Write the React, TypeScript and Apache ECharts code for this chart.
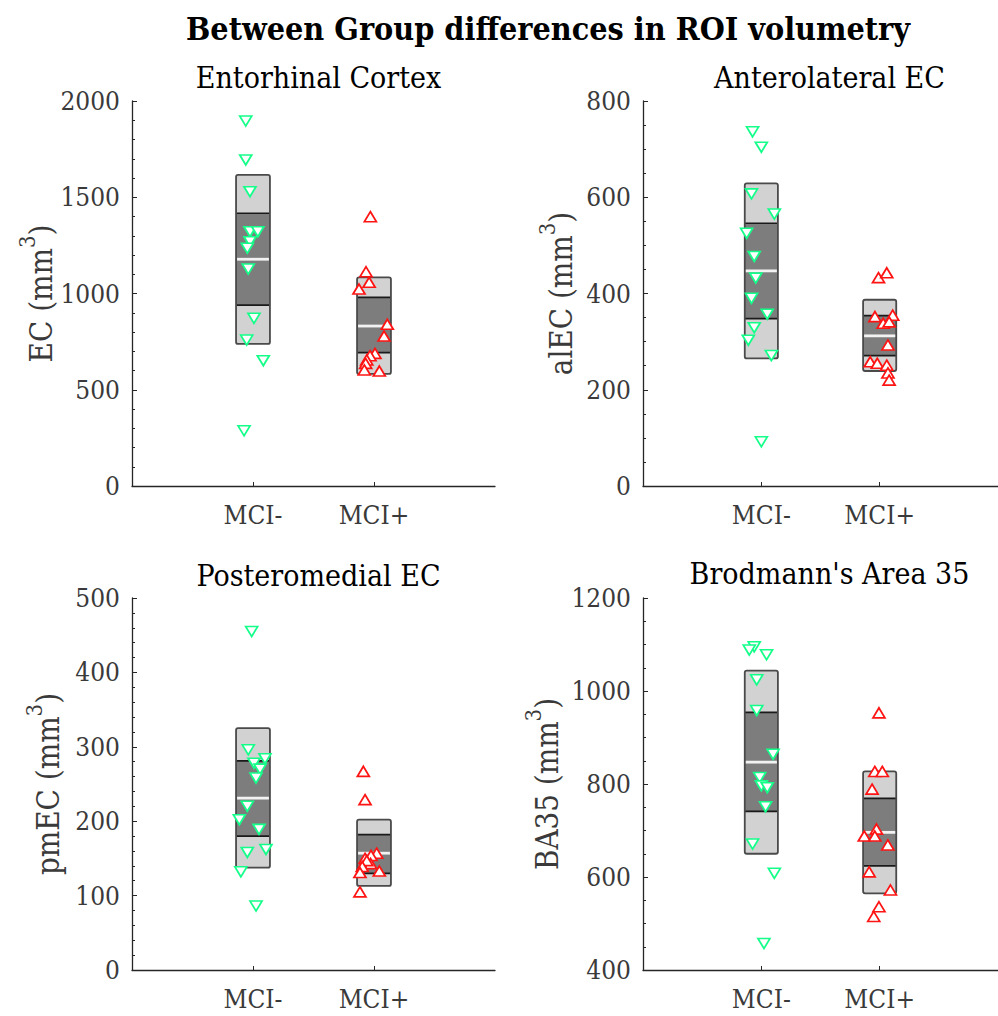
import React, { useEffect, useRef } from "react";
import * as echarts from "echarts";

const FONT = "'DejaVu Serif Condensed', 'DejaVu Serif', serif";

const groups = ["MCI-", "MCI+"];

// Entorhinal Cortex
const ecMinusX = [0.94, 0.94, 0.975, 0.975, 1.04, 0.975, 0.953, 0.961, 1.008, 0.948, 1.085, 0.926];
const ecMinusY = [1896, 1694, 1529, 1321, 1321, 1269, 1235, 1127, 871, 758, 651, 287];
const ecPlusX = [1.97, 1.934, 1.96, 1.876, 2.11, 2.083, 2.008, 1.967, 1.94, 1.931, 1.92, 2.044];
const ecPlusY = [1399, 1113, 1058, 1023, 840, 779, 689, 677, 655, 637, 603, 597];
// [group, outer low, outer high, inner low, inner high, mean]
const ecBoxes = [
  [1, 738, 1616, 940, 1417, 1178],
  [2, 582, 1084, 693, 980, 831],
];

// Anterolateral EC
const alMinusX = [0.926, 1.0, 0.917, 1.11, 0.876, 0.94, 0.953, 0.917, 1.05, 0.94, 0.89, 1.085, 1.0];
const alMinusY = [736, 704, 607, 565, 525, 477, 432, 390, 357, 329, 303, 271, 92];
const alPlusX = [1.99, 2.06, 1.96, 2.11, 2.03, 2.08, 2.07, 1.92, 1.98, 2.06, 2.07, 2.08];
const alPlusY = [433, 443, 352, 355, 338, 341, 293, 258, 255, 251, 235, 220];
const alBoxes = [
  [1, 265, 629, 348, 546, 447],
  [2, 239, 387, 271, 354, 312],
];

// Posteromedial EC
const pmMinusX = [0.989, 0.961, 1.099, 1.008, 1.058, 1.025, 0.953, 0.887, 1.05, 1.107, 0.953, 0.9, 1.025];
const pmMinusY = [455, 296, 284, 278, 270, 258, 220, 202, 189, 162, 158, 132, 86];
const pmPlusX = [1.912, 1.926, 2.022, 1.975, 1.926, 1.972, 1.94, 1.903, 2.044, 1.884, 1.884];
const pmPlusY = [267, 229, 157, 154, 150, 143, 147, 139, 133, 131, 105];
const pmBoxes = [
  [1, 137.5, 325, 180, 281, 231],
  [2, 113, 202, 130, 182, 157],
];

// Brodmann's Area 35
const baMinusX = [0.94, 0.898, 1.044, 0.961, 0.961, 1.099, 0.986, 1.0, 1.05, 1.036, 0.926, 1.11, 1.022];
const baMinusY = [1095, 1088, 1078, 1024, 958, 864, 814, 796, 792, 751, 671, 608, 457];
const baPlusX = [1.994, 1.959, 2.022, 1.936, 1.973, 1.87, 1.959, 2.069, 1.911, 2.091, 1.994, 1.95];
const baPlusY = [953, 827, 827, 789, 703, 688, 688, 669, 611, 572, 536, 515];
const baBoxes = [
  [1, 650, 1044, 741, 954, 847],
  [2, 565, 827, 624, 769, 696],
];

const panels = [
  {
    title: "Entorhinal Cortex", yName: "EC", min: 0, max: 2000, interval: 500, minor: 5,
    minusX: ecMinusX, minusY: ecMinusY, plusX: ecPlusX, plusY: ecPlusY, boxes: ecBoxes,
    grid: { left: 132, top: 101, width: 363, height: 385 }, nameGap: 72, titleTop: 57,
  },
  {
    title: "Anterolateral EC", yName: "alEC", min: 0, max: 800, interval: 200, minor: 4,
    minusX: alMinusX, minusY: alMinusY, plusX: alPlusX, plusY: alPlusY, boxes: alBoxes,
    grid: { left: 643, top: 101, width: 363, height: 385 }, nameGap: 67, titleTop: 57,
  },
  {
    title: "Posteromedial EC", yName: "pmEC", min: 0, max: 500, interval: 100, minor: 5,
    minusX: pmMinusX, minusY: pmMinusY, plusX: pmPlusX, plusY: pmPlusY, boxes: pmBoxes,
    grid: { left: 132, top: 598, width: 363, height: 372 }, nameGap: 69, titleTop: 555,
  },
  {
    title: "Brodmann's Area 35", yName: "BA35", min: 400, max: 1200, interval: 200, minor: 4,
    minusX: baMinusX, minusY: baMinusY, plusX: baPlusX, plusY: baPlusY, boxes: baBoxes,
    grid: { left: 643, top: 598, width: 363, height: 372 }, nameGap: 81, titleTop: 553,
  },
];

const HALF_W = 0.14;
const AXIS_COLOR = "#262626";
const LABEL_COLOR = "#3a3a3a";

function renderBox(params: any, api: any) {
  const g = api.value(0);
  const outerLo = api.value(1);
  const outerHi = api.value(2);
  const innerLo = api.value(3);
  const innerHi = api.value(4);
  const mean = api.value(5);
  const oTL = api.coord([g - HALF_W, outerHi]);
  const oBR = api.coord([g + HALF_W, outerLo]);
  const iTL = api.coord([g - HALF_W, innerHi]);
  const iBR = api.coord([g + HALF_W, innerLo]);
  const mL = api.coord([g - HALF_W, mean]);
  const mR = api.coord([g + HALF_W, mean]);
  return {
    type: "group",
    children: [
      {
        type: "rect",
        shape: { x: oTL[0], y: oTL[1], width: oBR[0] - oTL[0], height: oBR[1] - oTL[1], r: 2 },
        style: { fill: "#d2d2d2", stroke: "none" },
      },
      {
        type: "rect",
        shape: { x: iTL[0], y: iTL[1], width: iBR[0] - iTL[0], height: iBR[1] - iTL[1] },
        style: { fill: "#7d7d7d", stroke: "none" },
      },
      {
        type: "line",
        shape: { x1: iTL[0], y1: iTL[1], x2: iBR[0], y2: iTL[1] },
        style: { stroke: "#1a1a1a", lineWidth: 1.7 },
      },
      {
        type: "line",
        shape: { x1: iTL[0], y1: iBR[1], x2: iBR[0], y2: iBR[1] },
        style: { stroke: "#1a1a1a", lineWidth: 1.7 },
      },
      {
        type: "rect",
        shape: { x: oTL[0], y: oTL[1], width: oBR[0] - oTL[0], height: oBR[1] - oTL[1], r: 2 },
        style: { fill: "none", stroke: "#4a4a4a", lineWidth: 1.8 },
      },
      {
        type: "line",
        shape: { x1: mL[0] + 1, y1: mL[1], x2: mR[0] - 1, y2: mR[1] },
        style: { stroke: "#f2f2f2", lineWidth: 2.8 },
      },
    ],
  };
}

function buildOption() {
  const grids: any[] = [];
  const xAxes: any[] = [];
  const yAxes: any[] = [];
  const series: any[] = [];
  const titles: any[] = [
    {
      text: "Between Group differences in ROI volumetry",
      left: 543,
      top: 8,
      textAlign: "center",
      textStyle: { fontFamily: FONT, fontSize: 32, fontWeight: "bold", color: "#000" },
    },
  ];

  panels.forEach((p, i) => {
    grids.push({ ...p.grid, containLabel: false });
    titles.push({
      text: p.title,
      left: p.grid.left + p.grid.width / 2,
      top: p.titleTop,
      textAlign: "center",
      textStyle: { fontFamily: FONT, fontSize: 30, fontWeight: "normal", color: "#000" },
    });
    xAxes.push({
      type: "value",
      gridIndex: i,
      min: 0,
      max: 3,
      interval: 1,
      axisLine: { show: true, onZero: false, lineStyle: { color: AXIS_COLOR, width: 1.3 } },
      axisTick: { show: true, inside: true, length: 4, customValues: [1, 2], lineStyle: { color: AXIS_COLOR } },
      axisLabel: {
        show: true,
        customValues: [1, 2],
        margin: 16,
        fontFamily: FONT,
        fontSize: 26,
        color: LABEL_COLOR,
        formatter: (v: number) => groups[Math.round(v) - 1] ?? "",
      },
      splitLine: { show: false },
    });
    yAxes.push({
      type: "value",
      gridIndex: i,
      min: p.min,
      max: p.max,
      interval: p.interval,
      name: "{b|" + p.yName + " (mm}{s|3}{b|)}",
      nameLocation: "middle",
      nameRotate: 90,
      nameGap: p.nameGap,
      nameTextStyle: {
        rich: {
          b: { fontFamily: FONT, fontSize: 31, color: LABEL_COLOR, lineHeight: 40, verticalAlign: "bottom" },
          s: { fontFamily: FONT, fontSize: 22, color: LABEL_COLOR, lineHeight: 40, verticalAlign: "top" },
        },
      },
      axisLine: { show: true, onZero: false, lineStyle: { color: AXIS_COLOR, width: 1.3 } },
      axisTick: { show: true, inside: true, length: 5, lineStyle: { color: AXIS_COLOR } },
      minorTick: { show: true, splitNumber: p.minor, length: 3, lineStyle: { color: AXIS_COLOR } },
      axisLabel: {
        margin: 12,
        fontFamily: FONT,
        fontSize: 26,
        color: LABEL_COLOR,
        formatter: (v: number) => String(v),
      },
      splitLine: { show: false },
    });
    series.push({
      type: "custom",
      xAxisIndex: i,
      yAxisIndex: i,
      renderItem: renderBox,
      data: p.boxes,
      z: 2,
      clip: false,
    });
    series.push({
      type: "scatter",
      xAxisIndex: i,
      yAxisIndex: i,
      data: p.minusX.map((x, k) => [x, p.minusY[k]]),
      symbol: "triangle",
      symbolRotate: 180,
      symbolSize: [12, 10],
      itemStyle: { color: "#ffffff", borderColor: "#14ff8a", borderWidth: 1.7, opacity: 1 },
      z: 5,
    });
    series.push({
      type: "scatter",
      xAxisIndex: i,
      yAxisIndex: i,
      data: p.plusX.map((x, k) => [x, p.plusY[k]]),
      symbol: "triangle",
      symbolSize: [12, 10],
      itemStyle: { color: "#ffffff", borderColor: "#ff1414", borderWidth: 1.7, opacity: 1 },
      z: 5,
    });
  });

  return {
    animation: false,
    backgroundColor: "#ffffff",
    title: titles,
    grid: grids,
    xAxis: xAxes,
    yAxis: yAxes,
    series,
  };
}

export default function App() {
  const ref = useRef<HTMLDivElement>(null);
  useEffect(() => {
    if (!ref.current) return;
    const chart = echarts.init(ref.current, null, { renderer: "svg" });
    chart.setOption(buildOption() as any);
    return () => chart.dispose();
  }, []);
  return (
    <div
      ref={ref}
      style={{ position: "absolute", left: 0, top: 0, width: 998, height: 1016, background: "#fff" }}
    />
  );
}
